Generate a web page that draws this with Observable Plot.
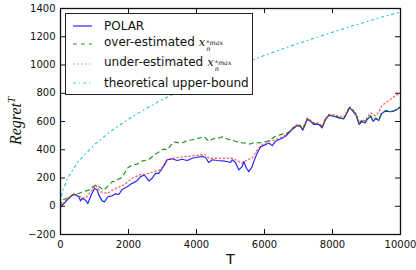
<!DOCTYPE html>
<html>
<head>
<meta charset="utf-8">
<script src="https://cdn.jsdelivr.net/npm/d3@7"></script>
<script src="https://cdn.jsdelivr.net/npm/@observablehq/plot@0.6"></script>
<style>
  html, body { margin: 0; padding: 0; background: #fff; }
  #wrap { position: relative; width: 416px; height: 270px; font-family: "DejaVu Sans", sans-serif; }
  #legend { position: absolute; left: 65px; top: 13px; width: 188px; height: 82px; border: 1px solid #222; background: #fff; box-sizing: border-box; }
  .row { position: absolute; left: 0; height: 18px; display: flex; align-items: center; font-size: 12px; color: #111; white-space: nowrap; }
  .row svg { margin-left: 7px; margin-right: 12px; flex: none; }
  .m { font-family: "DejaVu Serif", serif; font-style: italic; font-size: 11.5px; margin-left: 4px; }
  .ss { display: inline-flex; flex-direction: column; font-size: 6.5px; line-height: 6.5px; font-family: "DejaVu Serif", serif; font-style: italic; margin-left: 1px; position: relative; top: -1px; }
  #ylab { position: absolute; left: 15px; top: 121px; transform: translate(-50%, -50%) rotate(-90deg); font-family: "Liberation Serif", "DejaVu Serif", serif; font-style: italic; font-size: 16px; white-space: nowrap; color: #111; }
  #ylab sup { font-size: 11px; }
</style>
</head>
<body>
<div id="wrap"></div>
<script>
const xTicks = [0, 2000, 4000, 6000, 8000, 10000];
const yTicks = [-200, 0, 200, 400, 600, 800, 1000, 1200, 1400];
const seriesNames = ["POLAR", "over-estimated", "under-estimated", "theoretical upper-bound"];

const polar = [[0,0],[49,7],[196,43],[343,79],[441,83],[539,67],[588,38],[637,56],[735,43],[804,19],[902,79],[1000,126],[1078,117],[1127,79],[1225,38],[1294,31],[1392,67],[1520,74],[1618,88],[1716,83],[1814,119],[1961,138],[2108,162],[2255,181],[2353,210],[2471,221],[2598,179],[2696,198],[2794,233],[2892,233],[2990,269],[3059,293],[3137,329],[3284,336],[3431,324],[3578,333],[3725,324],[3873,340],[4020,347],[4167,353],[4265,345],[4363,309],[4461,329],[4608,324],[4755,321],[4902,317],[5000,310],[5049,329],[5147,310],[5245,257],[5343,281],[5392,317],[5470,269],[5539,245],[5637,281],[5686,317],[5784,376],[5882,419],[6029,436],[6127,448],[6226,429],[6323,460],[6470,476],[6618,495],[6814,543],[6961,571],[7050,567],[7127,538],[7255,614],[7353,602],[7451,579],[7598,579],[7696,555],[7794,614],[7892,643],[8039,638],[8186,626],[8333,619],[8402,650],[8500,698],[8598,674],[8696,643],[8784,579],[8873,602],[8961,590],[9020,614],[9118,638],[9196,602],[9265,619],[9363,607],[9441,655],[9559,674],[9706,669],[9804,674],[9902,686],[10000,702]];

const overEst = [[0,0],[49,43],[245,62],[441,95],[539,90],[637,102],[833,114],[1029,150],[1078,150],[1274,114],[1520,174],[1569,174],[1814,205],[1961,269],[2108,293],[2255,298],[2353,317],[2598,331],[2794,370],[3039,405],[3137,400],[3333,455],[3529,448],[3578,448],[3700,462],[3873,471],[3990,478],[4118,485],[4216,495],[4363,460],[4500,478],[4657,483],[4780,492],[4902,476],[5020,470],[5147,460],[5270,452],[5392,448],[5588,441],[5700,452],[5833,448],[6078,460],[6200,475],[6323,495],[6569,514],[6618,505],[6814,548],[6961,576],[7050,572],[7127,545],[7255,618],[7353,606],[7451,585],[7598,582],[7696,560],[7794,616],[7892,646],[8039,640],[8186,630],[8333,622],[8402,652],[8500,700],[8598,678],[8696,648],[8784,585],[8873,608],[8961,596],[9020,620],[9118,642],[9196,606],[9265,625],[9363,612],[9441,660],[9559,678],[9706,672],[9804,676],[9902,688],[10000,705]];

const underEst = [[0,0],[49,7],[196,55],[392,83],[588,67],[735,55],[882,102],[1029,150],[1176,102],[1372,90],[1618,126],[1863,150],[2108,198],[2353,225],[2549,230],[2745,245],[2941,257],[3137,329],[3431,345],[3725,353],[4020,360],[4235,369],[4363,340],[4559,340],[4755,338],[5049,340],[5147,329],[5343,305],[5490,329],[5637,340],[5784,400],[5931,436],[6127,460],[6323,471],[6569,495],[6814,550],[6961,580],[7127,548],[7255,625],[7451,592],[7598,588],[7696,566],[7794,622],[7892,650],[8039,648],[8186,636],[8333,630],[8500,705],[8598,684],[8696,655],[8784,592],[8873,612],[8961,605],[9118,662],[9265,640],[9363,668],[9441,710],[9559,733],[9706,757],[9804,775],[9902,790],[10000,800]];

const upperBound = [[0,0],[10,45],[50,100],[200,195],[500,310],[1000,437],[1500,535],[2000,617],[2500,690],[3000,756],[3500,816],[4000,872],[4500,925],[5000,975],[5500,1022],[6000,1068],[6500,1111],[7000,1153],[7500,1193],[8000,1232],[8500,1270],[9000,1307],[9500,1343],[10000,1375]];

const W = 416, H = 270, mL = 60, mR = 16, mT = 8, mB = 36;
const innerW = W - mL - mR, innerH = H - mT - mB;
const tick = 5;

const chart = Plot.plot({
  width: W, height: H,
  marginLeft: mL, marginRight: mR, marginTop: mT, marginBottom: mB,
  style: { fontFamily: "DejaVu Sans, sans-serif", background: "#fff", color: "#111", overflow: "visible" },
  x: { domain: [0, 10000] },
  y: { domain: [-200, 1400] },
  marks: [
    Plot.axisX(xTicks, { tickSize: 0, tickPadding: 6, fontSize: 10, label: null, tickFormat: d3.format("d") }),
    Plot.axisY(yTicks, { tickSize: 0, tickPadding: 5, fontSize: 10, label: null, tickFormat: d3.format("d") }),
    Plot.line(polar, { x: d => d[0], y: d => d[1], stroke: "#0000ff", strokeWidth: 1.2, strokeOpacity: 0.85 }),
    Plot.line(overEst, { x: d => d[0], y: d => d[1], stroke: "#008000", strokeWidth: 1.2, strokeDasharray: "4,4", strokeOpacity: 0.85 }),
    Plot.line(underEst, { x: d => d[0], y: d => d[1], stroke: "#ff0000", strokeWidth: 1.3, strokeDasharray: "1.2,2.8", strokeOpacity: 0.65 }),
    Plot.line(upperBound, { x: d => d[0], y: d => d[1], stroke: "#00bfbf", strokeWidth: 1.1, strokeDasharray: "2.5,3.5,1,3.5", strokeOpacity: 0.85 }),
    Plot.tickX(xTicks, { x: d => d, insetTop: innerH - tick, stroke: "#111", strokeWidth: 1 }),
    Plot.tickX(xTicks, { x: d => d, insetBottom: innerH - tick, stroke: "#111", strokeWidth: 1 }),
    Plot.tickY(yTicks, { y: d => d, insetRight: innerW - tick, stroke: "#111", strokeWidth: 1 }),
    Plot.tickY(yTicks, { y: d => d, insetLeft: innerW - tick, stroke: "#111", strokeWidth: 1 }),
    Plot.frame({ stroke: "#111", strokeWidth: 1.3 }),
    Plot.text(["T"], { frameAnchor: "bottom", dy: 29, fontSize: 14.5, fill: "#111" })
  ]
});

const wrap = document.getElementById("wrap");
wrap.appendChild(chart);

const ylab = document.createElement("div");
ylab.id = "ylab";
ylab.innerHTML = "Regret<sup>T</sup>";
wrap.appendChild(ylab);

const sub = '<span class="m">x</span><span class="ss"><span>*max</span><span>n</span></span>';
const legendItems = [
  { label: seriesNames[0], color: "#0000ff", dash: "", op: 0.85 },
  { label: seriesNames[1] + sub, color: "#008000", dash: "4,4", op: 0.85 },
  { label: seriesNames[2] + sub, color: "#ff0000", dash: "1.2,2.8", op: 0.65 },
  { label: seriesNames[3], color: "#00bfbf", dash: "2.5,3.5,1,3.5", op: 0.85 }
];
const rowTops = [3, 21, 41, 60];
const legend = document.createElement("div");
legend.id = "legend";
legendItems.forEach((it, i) => {
  const row = document.createElement("div");
  row.className = "row";
  row.style.top = rowTops[i] + "px";
  row.innerHTML = `<svg width="19" height="4"><line x1="0" y1="2" x2="19" y2="2" stroke="${it.color}" stroke-width="1.2" stroke-opacity="${it.op}" ${it.dash ? `stroke-dasharray="${it.dash}"` : ""}/></svg><span>${it.label}</span>`;
  legend.appendChild(row);
});
wrap.appendChild(legend);
</script>
</body>
</html>
